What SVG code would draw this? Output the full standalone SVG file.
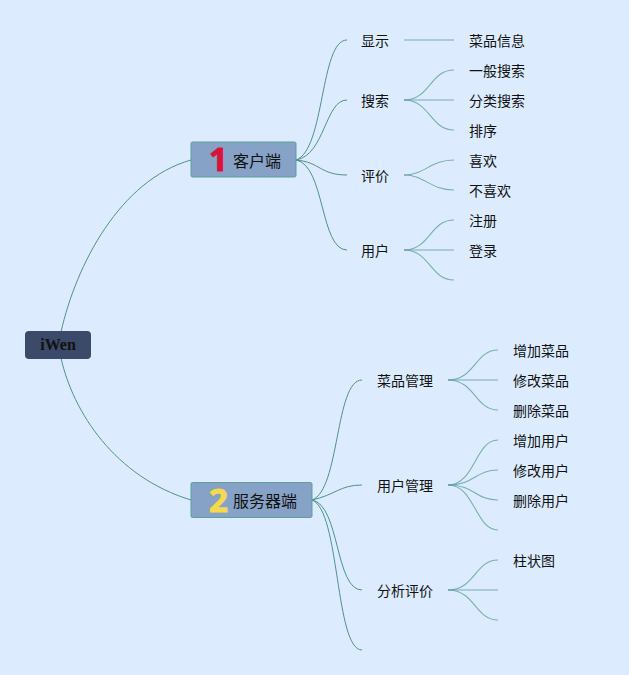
<svg xmlns="http://www.w3.org/2000/svg" width="629" height="675" viewBox="0 0 629 675">
<style>
.t{font-family:"Noto Sans CJK SC","Liberation Sans",sans-serif;font-size:14px;fill:#111}
.m{font-size:16px}
.c{fill:none;stroke:#4f8f92;stroke-width:1}
.l{fill:none;stroke:#5f9ea0;stroke-width:1.1;opacity:.8}
.n{fill:#86a2c6;stroke:#5f9ea0;stroke-width:1}
.d{font-family:"Open Sans","Liberation Sans",sans-serif;font-weight:700;font-style:normal;font-size:33px;stroke-width:1;stroke-linejoin:round}
</style>
<rect width="629" height="675" fill="#dcecfe"/>
<g id="connectors">
<path class="c" d="M61 332C76 265 120 180 191 160"/>
<path class="c" d="M61 358C73 412 115 477 191 500"/>
<path class="c" d="M296 160C325 150 320 40 347 40"/>
<path class="c" d="M296 160C325 155 325 100 347 100"/>
<path class="c" d="M296 160C320 162 320 175 347 175"/>
<path class="c" d="M296 160C325 165 320 250 347 250"/>
<path class="l" d="M404 40H454"/>
<path class="l" d="M404 100C430 100 430 70 454 70"/>
<path class="l" d="M404 100H454"/>
<path class="l" d="M404 100C430 100 430 130 454 130"/>
<path class="l" d="M404 175C425 175 430 160 454 160"/>
<path class="l" d="M404 175C425 175 430 190 454 190"/>
<path class="l" d="M404 250C430 250 430 220 454 220"/>
<path class="l" d="M404 250H454"/>
<path class="l" d="M404 250C430 250 430 280 454 280"/>
<path class="c" d="M312 500C340 490 335 380 362 380"/>
<path class="c" d="M312 500C335 495 340 485 362 485"/>
<path class="c" d="M312 500C340 505 335 590 362 590"/>
<path class="c" d="M312 500C340 510 335 650 362 650"/>
<path class="l" d="M448 380C475 380 475 350 498 350"/>
<path class="l" d="M448 380H498"/>
<path class="l" d="M448 380C475 380 475 410 498 410"/>
<path class="l" d="M448 485C475 485 475 440 498 440"/>
<path class="l" d="M448 485C475 485 475 470 498 470"/>
<path class="l" d="M448 485C475 485 475 500 498 500"/>
<path class="l" d="M448 485C475 485 475 530 498 530"/>
<path class="l" d="M448 590C475 590 475 560 498 560"/>
<path class="l" d="M448 590H498"/>
<path class="l" d="M448 590C475 590 475 620 498 620"/>
</g>
<g id="root"><rect x="25" y="331" width="66" height="28" rx="4" fill="#3a4a68"/><text x="58" y="350" text-anchor="middle" font-family="Liberation Serif,serif" font-weight="700" font-size="16" fill="#111">iWen</text></g>
<g id="client"><rect class="n" x="191" y="142" width="105" height="35" rx="1.500"/><text class="d" x="209" y="171" fill="#d8143c" stroke="#d8143c">1</text><text class="t m" x="233" y="167">客户端</text></g>
<g id="server"><rect class="n" x="191" y="482.500" width="121" height="35" rx="1.500"/><text class="d" x="209" y="512" fill="#f5d94e" stroke="#f5d94e">2</text><text class="t m" x="233" y="507">服务器端</text></g>
<g id="n1"><text class="t" x="361" y="46">显示</text></g>
<g id="n2"><text class="t" x="361" y="106">搜索</text></g>
<g id="n3"><text class="t" x="361" y="181">评价</text></g>
<g id="n4"><text class="t" x="361" y="256">用户</text></g>
<g id="n5"><text class="t" x="469" y="46">菜品信息</text></g>
<g id="n6"><text class="t" x="469" y="76">一般搜索</text></g>
<g id="n7"><text class="t" x="469" y="106">分类搜索</text></g>
<g id="n8"><text class="t" x="469" y="136">排序</text></g>
<g id="n9"><text class="t" x="469" y="166">喜欢</text></g>
<g id="n10"><text class="t" x="469" y="196">不喜欢</text></g>
<g id="n11"><text class="t" x="469" y="226">注册</text></g>
<g id="n12"><text class="t" x="469" y="256">登录</text></g>
<g id="n13"><text class="t" x="377" y="386">菜品管理</text></g>
<g id="n14"><text class="t" x="377" y="491">用户管理</text></g>
<g id="n15"><text class="t" x="377" y="596">分析评价</text></g>
<g id="n16"><text class="t" x="513" y="356">增加菜品</text></g>
<g id="n17"><text class="t" x="513" y="386">修改菜品</text></g>
<g id="n18"><text class="t" x="513" y="416">删除菜品</text></g>
<g id="n19"><text class="t" x="513" y="446">增加用户</text></g>
<g id="n20"><text class="t" x="513" y="476">修改用户</text></g>
<g id="n21"><text class="t" x="513" y="506">删除用户</text></g>
<g id="n22"><text class="t" x="513" y="566">柱状图</text></g>
</svg>
